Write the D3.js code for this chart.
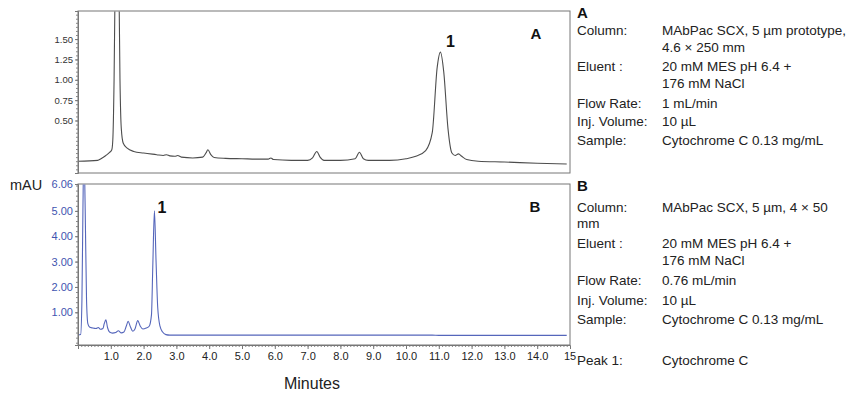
<!DOCTYPE html>
<html>
<head>
<meta charset="utf-8">
<script src="https://cdn.jsdelivr.net/npm/d3@7"></script>
<style>
  body { margin: 0; background: #fff; }
  svg { font-family: 'Liberation Sans', Arial, sans-serif; }
</style>
</head>
<body>
<div id="chart"></div>
<script>
// chromatogram A (prototype column), time in minutes / signal in mAU
const timeA = [0, 0.6, 0.7, 0.85, 0.97, 1.03, 1.06, 1.1, 1.14, 1.19, 1.24, 1.28, 1.32, 1.38, 1.5, 1.7, 2.0, 2.4,
  2.6, 2.7, 2.8, 2.95, 3.04, 3.15, 3.5, 3.8, 3.9, 3.96, 4.05, 4.15, 4.5, 5.0, 5.5, 5.8, 5.88, 5.96, 6.5, 7.0,
  7.15, 7.28, 7.38, 7.5, 8.0, 8.45, 8.58, 8.7, 8.85, 9.5, 10.0, 10.3, 10.6, 10.8, 10.95, 11.05, 11.15, 11.28,
  11.4, 11.5, 11.6, 11.7, 11.85, 12.2, 13.0, 14.0, 14.9];
const mauA = [0, 0.01, 0.03, 0.07, 0.11, 0.14, 0.25, 1.0, 2.5, 3.2, 2.5, 1.0, 0.4, 0.22, 0.16, 0.12, 0.1, 0.08,
  0.07, 0.08, 0.065, 0.06, 0.07, 0.05, 0.04, 0.05, 0.1, 0.14, 0.08, 0.045, 0.035, 0.03, 0.025, 0.025, 0.04, 0.02,
  0.01, 0.01, 0.04, 0.12, 0.05, 0.01, 0.01, 0.03, 0.11, 0.03, 0.01, 0.01, 0.03, 0.06, 0.13, 0.35, 1.15, 1.34,
  1.1, 0.4, 0.1, 0.07, 0.09, 0.06, 0.02, 0, -0.01, -0.025, -0.035];

// chromatogram B (4 x 50 mm column)
const timeB = [0, 0.08, 0.12, 0.15, 0.18, 0.22, 0.26, 0.3, 0.35, 0.45, 0.55, 0.62, 0.68, 0.76, 0.8, 0.85, 0.9,
  0.96, 1.05, 1.15, 1.23, 1.32, 1.4, 1.47, 1.53, 1.6, 1.67, 1.74, 1.82, 1.9, 1.98, 2.08, 2.17, 2.24, 2.28, 2.33,
  2.38, 2.43, 2.5, 2.58, 2.68, 2.8, 4.0, 6.0, 8.0, 10.0, 10.8, 11.0, 12.0, 14.0, 14.9];
const mauB = [0.1, 0.12, 1.5, 5.0, 7.5, 5.0, 1.5, 0.55, 0.42, 0.38, 0.36, 0.4, 0.33, 0.36, 0.55, 0.7, 0.4,
  0.22, 0.18, 0.2, 0.27, 0.19, 0.22, 0.45, 0.64, 0.42, 0.25, 0.35, 0.67, 0.45, 0.34, 0.38, 0.45, 0.9, 2.8, 5.0,
  3.0, 1.2, 0.45, 0.22, 0.12, 0.1, 0.1, 0.1, 0.1, 0.1, 0.1, 0.09, 0.09, 0.09, 0.09];

const ticksA = [0.5, 0.75, 1.0, 1.25, 1.5];
const ticksB = [1, 2, 3, 4, 5];
const ticksX = d3.range(1, 15);

const infoA = [
  ['Column:', 'MAbPac SCX, 5 µm prototype,'],
  ['', '4.6 × 250 mm'],
  ['Eluent :', '20 mM MES pH 6.4 +'],
  ['', '176 mM NaCl'],
  ['Flow Rate:', '1 mL/min'],
  ['Inj. Volume:', '10 µL'],
  ['Sample:', 'Cytochrome C 0.13 mg/mL'],
];
const infoB = [
  ['Column:', 'MAbPac SCX, 5 µm, 4 × 50'],
  ['mm', ''],
  ['Eluent :', '20 mM MES pH 6.4 +'],
  ['', '176 mM NaCl'],
  ['Flow Rate:', '0.76 mL/min'],
  ['Inj. Volume:', '10 µL'],
  ['Sample:', 'Cytochrome C 0.13 mg/mL'],
  ['Peak 1:', 'Cytochrome C'],
];

const w = 852;
const h = 398;
const left = 78;
const right = 570;

const svg = d3.select('#chart').append('svg')
  .attr('width', w)
  .attr('height', h);

const x = d3.scaleLinear().domain([0, 15]).range([left, right]);
const yA = d3.scaleLinear().domain([-0.145, 1.845]).range([173, 11]);
const yB = d3.scaleLinear().domain([-0.29, 6.06]).range([345, 184]);

function drawPanel(y, times, vals, lineColor, labelColor, ticks, minorStep, fontSize, name) {
  const [y0, y1] = y.range();
  const g = svg.append('g');

  g.append('rect')
    .attr('x', left)
    .attr('y', y1)
    .attr('width', right - left)
    .attr('height', y0 - y1)
    .attr('fill', 'none')
    .attr('stroke', '#777')
    .attr('stroke-width', 1);

  const clipId = 'clip' + name;
  g.append('clipPath').attr('id', clipId)
    .append('rect')
    .attr('x', left).attr('y', y1 + 0.5)
    .attr('width', right - left).attr('height', y0 - y1 - 1);

  const line = d3.line()
    .x((d) => x(d[0]))
    .y((d) => y(d[1]))
    .curve(d3.curveMonotoneX);

  g.append('path')
    .datum(times.map((t, i) => [t, vals[i]]))
    .attr('clip-path', `url(#${clipId})`)
    .attr('d', line)
    .attr('fill', 'none')
    .attr('stroke', lineColor)
    .attr('stroke-width', 1.1);

  // minor ticks on the left axis
  const dom = y.domain();
  const minor = d3.range(Math.ceil(dom[0] / minorStep) * minorStep, dom[1], minorStep);
  g.append('g')
    .attr('transform', `translate(${left},0)`)
    .call(d3.axisLeft(y).tickValues(minor).tickSize(2).tickFormat(''))
    .call((a) => a.select('.domain').remove())
    .call((a) => a.selectAll('line').attr('stroke', '#888'));

  const axis = g.append('g')
    .attr('transform', `translate(${left},0)`)
    .call(d3.axisLeft(y).tickValues(ticks).tickSize(3).tickPadding(2).tickFormat(d3.format('.2f')));
  axis.select('.domain').attr('stroke', '#777');
  axis.selectAll('line').attr('stroke', '#777');
  axis.selectAll('text')
    .attr('fill', labelColor)
    .style('font-size', fontSize + 'px')
    .style('font-family', "'Liberation Sans', Arial, sans-serif");
  return g;
}

drawPanel(yA, timeA, mauA, '#4d4d4d', '#333', ticksA, 0.05, 9.5, 'A');
const gB = drawPanel(yB, timeB, mauB, '#5566bb', '#3f55b0', ticksB, 0.2, 11, 'B');

gB.append('text')
  .attr('x', left - 5)
  .attr('y', yB(6.06) + 4)
  .attr('text-anchor', 'end')
  .attr('fill', '#3f55b0')
  .style('font-size', '11px')
  .text('6.06');

// bottom time axis
const xMinor = svg.append('g')
  .attr('transform', `translate(0,${yB.range()[0]})`)
  .call(d3.axisBottom(x).tickValues(d3.range(0.1, 15, 0.1)).tickSize(2).tickFormat(''));
xMinor.select('.domain').remove();
xMinor.selectAll('line').attr('stroke', '#888');

const xAxis = svg.append('g')
  .attr('transform', `translate(0,${yB.range()[0]})`)
  .call(d3.axisBottom(x).tickValues(ticksX).tickSize(4).tickPadding(3).tickFormat(d3.format('.1f')));
xAxis.select('.domain').attr('stroke', '#777');
xAxis.selectAll('line').attr('stroke', '#777');
xAxis.selectAll('text')
  .attr('fill', '#222')
  .style('font-size', '11px')
  .style('font-family', "'Liberation Sans', Arial, sans-serif");

svg.append('text')
  .attr('x', x(15) - 6)
  .attr('y', 360)
  .attr('fill', '#222')
  .style('font-size', '11px')
  .text('15');

// axis titles
svg.append('text')
  .attr('x', 10)
  .attr('y', 190)
  .attr('fill', '#222')
  .style('font-size', '14.5px')
  .text('mAU');

svg.append('text')
  .attr('x', 312)
  .attr('y', 389)
  .attr('text-anchor', 'middle')
  .attr('fill', '#222')
  .style('font-size', '16px')
  .text('Minutes');

// peak labels and panel letters
const peakLabels = [
  { x: x(11.05) + 10, y: 47, t: '1', bold: false },
  { x: 162, y: 213, t: '1', bold: false },
  { x: 536, y: 39, t: 'A', bold: true },
  { x: 535, y: 212, t: 'B', bold: true },
];
svg.selectAll('.plabel')
  .data(peakLabels)
  .enter()
  .append('text')
  .attr('x', (d) => d.x)
  .attr('y', (d) => d.y)
  .attr('text-anchor', 'middle')
  .attr('fill', '#111')
  .style('font-size', (d) => (d.bold ? '15px' : '16px'))
  .style('font-weight', 'bold')
  .text((d) => d.t);

// method notes on the right
function drawInfo(title, rows, top, baselines) {
  svg.append('text')
    .attr('x', 577)
    .attr('y', top)
    .attr('fill', '#111')
    .style('font-size', '15px')
    .style('font-weight', 'bold')
    .text(title);

  rows.forEach((r, i) => {
    svg.append('text')
      .attr('x', 577)
      .attr('y', baselines[i])
      .attr('fill', '#222')
      .style('font-size', '13.5px')
      .text(r[0]);
    svg.append('text')
      .attr('x', 662)
      .attr('y', baselines[i])
      .attr('fill', '#222')
      .style('font-size', '13.5px')
      .text(r[1]);
  });
}

drawInfo('A', infoA, 18, [35, 52, 71, 88, 108, 126, 145]);
drawInfo('B', infoB, 191, [212, 228, 248, 265, 285, 305, 324, 365]);
</script>
</body>
</html>
